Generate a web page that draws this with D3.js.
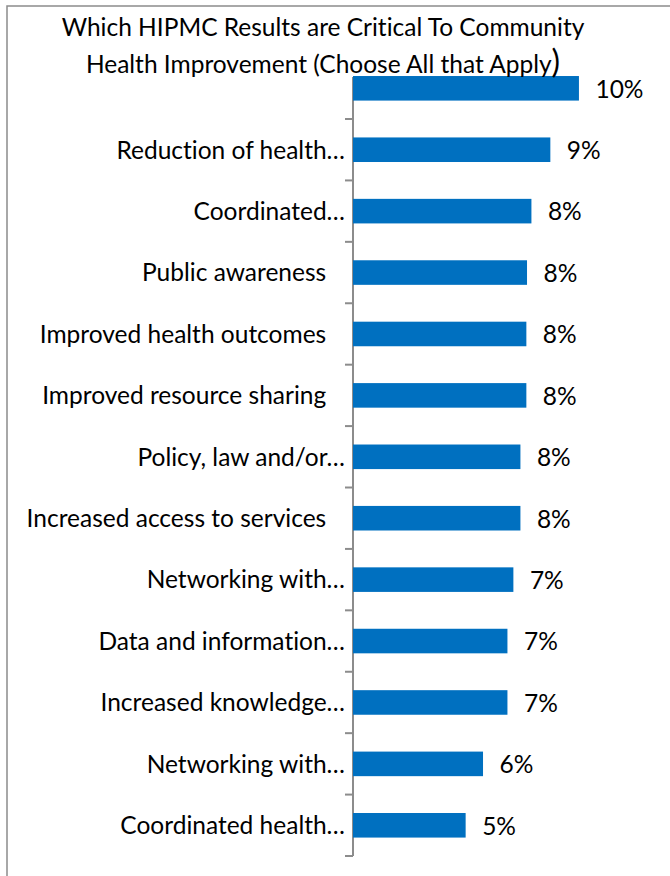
<!DOCTYPE html>
<html>
<head>
<meta charset="utf-8">
<script src="https://cdn.jsdelivr.net/npm/d3@7"></script>
<style>
  html, body { margin: 0; padding: 0; background: #fff; }
  svg { display: block; }
  text { font-family: Lato, "Open Sans", sans-serif; fill: #000; font-variant-ligatures: none; font-feature-settings: "liga" 0, "dlig" 0; }
</style>
</head>
<body>
<svg id="chart" width="670" height="876"></svg>
<script>
// Survey results: share of responses per outcome (top to bottom)
const categories = [
  "",
  "Reduction of health…",
  "Coordinated…",
  "Public awareness   ",
  "Improved health outcomes   ",
  "Improved resource sharing   ",
  "Policy, law and/or…",
  "Increased access to services   ",
  "Networking with…",
  "Data and information…",
  "Increased knowledge…",
  "Networking with…",
  "Coordinated health…"
];
const values = [0.1027, 0.0897, 0.0811, 0.0791, 0.0788, 0.0788, 0.0761, 0.0761, 0.0729, 0.0702, 0.0702, 0.0591, 0.0512];
const titleLines = ["Which HIPMC Results are Critical To Community", "Health Improvement (Choose All that Apply"];

const svg = d3.select("#chart");
const axisX = 353;
const FONT = 24.5;

const y = d3.scaleBand()
  .domain(d3.range(categories.length))
  .range([57.6, 856])
  .paddingInner(0.6)
  .paddingOuter(0.3);

const x = d3.scaleLinear()
  .domain([0, 0.12])
  .range([axisX, axisX + 264]);

// chart frame
svg.append("rect")
  .attr("x", 7).attr("y", 6)
  .attr("width", 700).attr("height", 900)
  .attr("fill", "#fff")
  .attr("stroke", "#8c8c8c").attr("stroke-width", 1.5);

// category axis: line plus outward ticks on band boundaries
const axisG = svg.append("g");
const bounds = d3.range(categories.length + 1).map(i => y.range()[0] + i * (y.range()[1] - y.range()[0]) / categories.length);
axisG.append("line")
  .attr("x1", axisX).attr("x2", axisX)
  .attr("y1", bounds[0]).attr("y2", bounds[bounds.length - 1])
  .attr("stroke", "#8c8c8c").attr("stroke-width", 2);
axisG.selectAll("line.tick").data(bounds).join("line")
  .attr("class", "tick")
  .attr("x1", axisX - 8).attr("x2", axisX)
  .attr("y1", d => d).attr("y2", d => d)
  .attr("stroke", "#8c8c8c").attr("stroke-width", 2);

// category labels
const bandCenter = i => y(i) + y.bandwidth() / 2;
svg.append("g").selectAll("text").data(categories).join("text")
  .attr("x", axisX - 8)
  .attr("y", (d, i) => bandCenter(i))
  .attr("dy", "0.36em")
  .attr("text-anchor", "end")
  .style("white-space", "pre")
  .style("font-size", FONT + "px")
  .text(d => d);

// title block with white background over the plot top
svg.append("rect")
  .attr("x", 58).attr("y", 9)
  .attr("width", 532).attr("height", 68)
  .attr("fill", "#fff");

// bars
svg.append("g").selectAll("rect").data(values).join("rect")
  .attr("x", x(0))
  .attr("y", (d, i) => y(i))
  .attr("width", d => x(d) - x(0))
  .attr("height", y.bandwidth())
  .attr("fill", "#0070C0");

// value labels
const fmt = d3.format(".0%");
svg.append("g").selectAll("text").data(values).join("text")
  .attr("x", d => x(d) + 16.5)
  .attr("y", (d, i) => bandCenter(i))
  .attr("dy", "0.38em")
  .style("font-size", FONT + "px")
  .text(d => fmt(d));

// title text
const title = svg.append("text")
  .attr("text-anchor", "middle")
  .style("font-size", FONT + "px");
title.append("tspan").attr("x", 323).attr("y", 35.7).text(titleLines[0]);
const l2 = title.append("tspan").attr("x", 323).attr("y", 73.3);
l2.append("tspan").text(titleLines[1]);
l2.append("tspan").style("font-size", (FONT * 1.3) + "px").text(")");
</script>
</body>
</html>
